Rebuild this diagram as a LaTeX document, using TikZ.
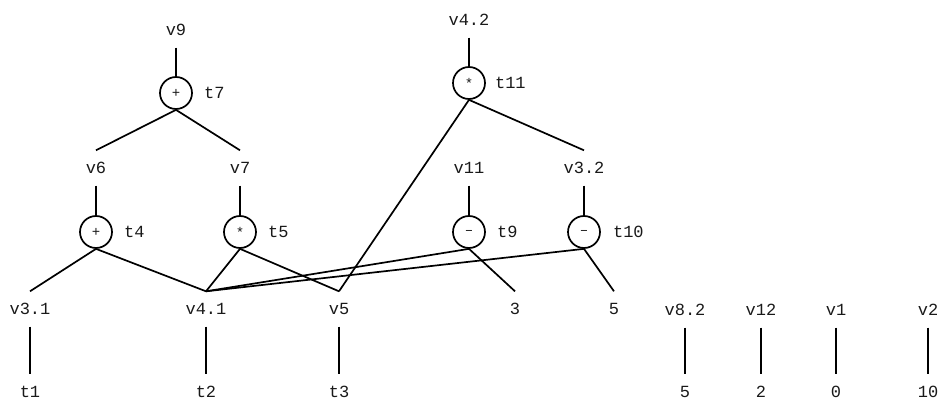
\documentclass[tikz,border=0pt]{standalone}
\usepackage{fontspec}
\newfontfamily\codefont{Liberation Mono}
\usetikzlibrary{positioning}

\tikzset{
    val/.style={inner sep=0pt, minimum height=35pt, text=black!90, font={\codefont\fontsize{17}{20}\selectfont}},
    op/.style={draw, circle, line width=1.7pt, minimum size=32pt, inner sep=0pt, text=black!90, font={\codefont\fontsize{14}{16}\selectfont}},
    tag/.style={inner sep=0pt, text=black!90, font={\codefont\fontsize{17}{20}\selectfont}},
    wire/.style={line width=1.7pt}
}

\begin{document}
\begin{tikzpicture}[x=1pt, y=-1pt]
    \useasboundingbox (0,0) rectangle (938,399);

    \node[val] (v9) at (176,30) {v9};
    \node[op] (t7) at (176,93) {+};
    \node[tag, right=11pt of t7] (t7l) {t7};
    \node[val] (v6) at (96,168) {v6};
    \node[val] (v7) at (240,168) {v7};
    \node[op] (t4) at (96,232) {+};
    \node[tag, right=11pt of t4] (t4l) {t4};
    \node[op] (t5) at (240,232) {*};
    \node[tag, right=11pt of t5] (t5l) {t5};
    \node[val] (v31) at (30,309) {v3.1};
    \node[val] (v41) at (206,309) {v4.1};
    \node[val] (v5) at (339,309) {v5};
    \node[val] (t1) at (30,392) {t1};
    \node[val] (t2) at (206,392) {t2};
    \node[val] (t3) at (339,392) {t3};

    \node[val] (v42) at (469,20) {v4.2};
    \node[op] (t11) at (469,83) {*};
    \node[tag, right=9pt of t11] (t11l) {t11};
    \node[val] (v11) at (469,168) {v11};
    \node[val] (v32) at (584,168) {v3.2};
    \node[op] (t9) at (469,232) {\textendash};
    \node[tag, right=11pt of t9] (t9l) {t9};
    \node[op] (t10) at (584,232) {\textendash};
    \node[tag, right=12pt of t10] (t10l) {t10};
    \node[val] (c3) at (515,309) {3};
    \node[val] (c5) at (614,309) {5};

    \node[val] (v82) at (685,310) {v8.2};
    \node[val] (v12) at (761,310) {v12};
    \node[val] (v1) at (836,310) {v1};
    \node[val] (v2) at (928,310) {v2};
    \node[val] (c82) at (685,392) {5};
    \node[val] (c12) at (761,392) {2};
    \node[val] (c1) at (836,392) {0};
    \node[val] (c2) at (928,392) {10};

    \draw[wire] (v9) -- (t7);
    \draw[wire] (t7.south) -- (v6.north);
    \draw[wire] (t7.south) -- (v7.north);
    \draw[wire] (v6) -- (t4);
    \draw[wire] (v7) -- (t5);
    \draw[wire] (t4.south) -- (v31.north);
    \draw[wire] (t4.south) -- (v41.north);
    \draw[wire] (t5.south) -- (v41.north);
    \draw[wire] (t5.south) -- (v5.north);

    \draw[wire] (v42) -- (t11);
    \draw[wire] (t11.south) -- (v32.north);
    \draw[wire] (t11.south) -- (v5.north);
    \draw[wire] (v11) -- (t9);
    \draw[wire] (v32) -- (t10);
    \draw[wire] (t9.south) -- (c3.north);
    \draw[wire] (t9.south) -- (v41.north);
    \draw[wire] (t10.south) -- (c5.north);
    \draw[wire] (t10.south) -- (v41.north);

    \foreach \a/\b in {v31/t1, v41/t2, v5/t3, v82/c82, v12/c12, v1/c1, v2/c2}
        \draw[wire] (\a) -- (\b);
\end{tikzpicture}
\end{document}
